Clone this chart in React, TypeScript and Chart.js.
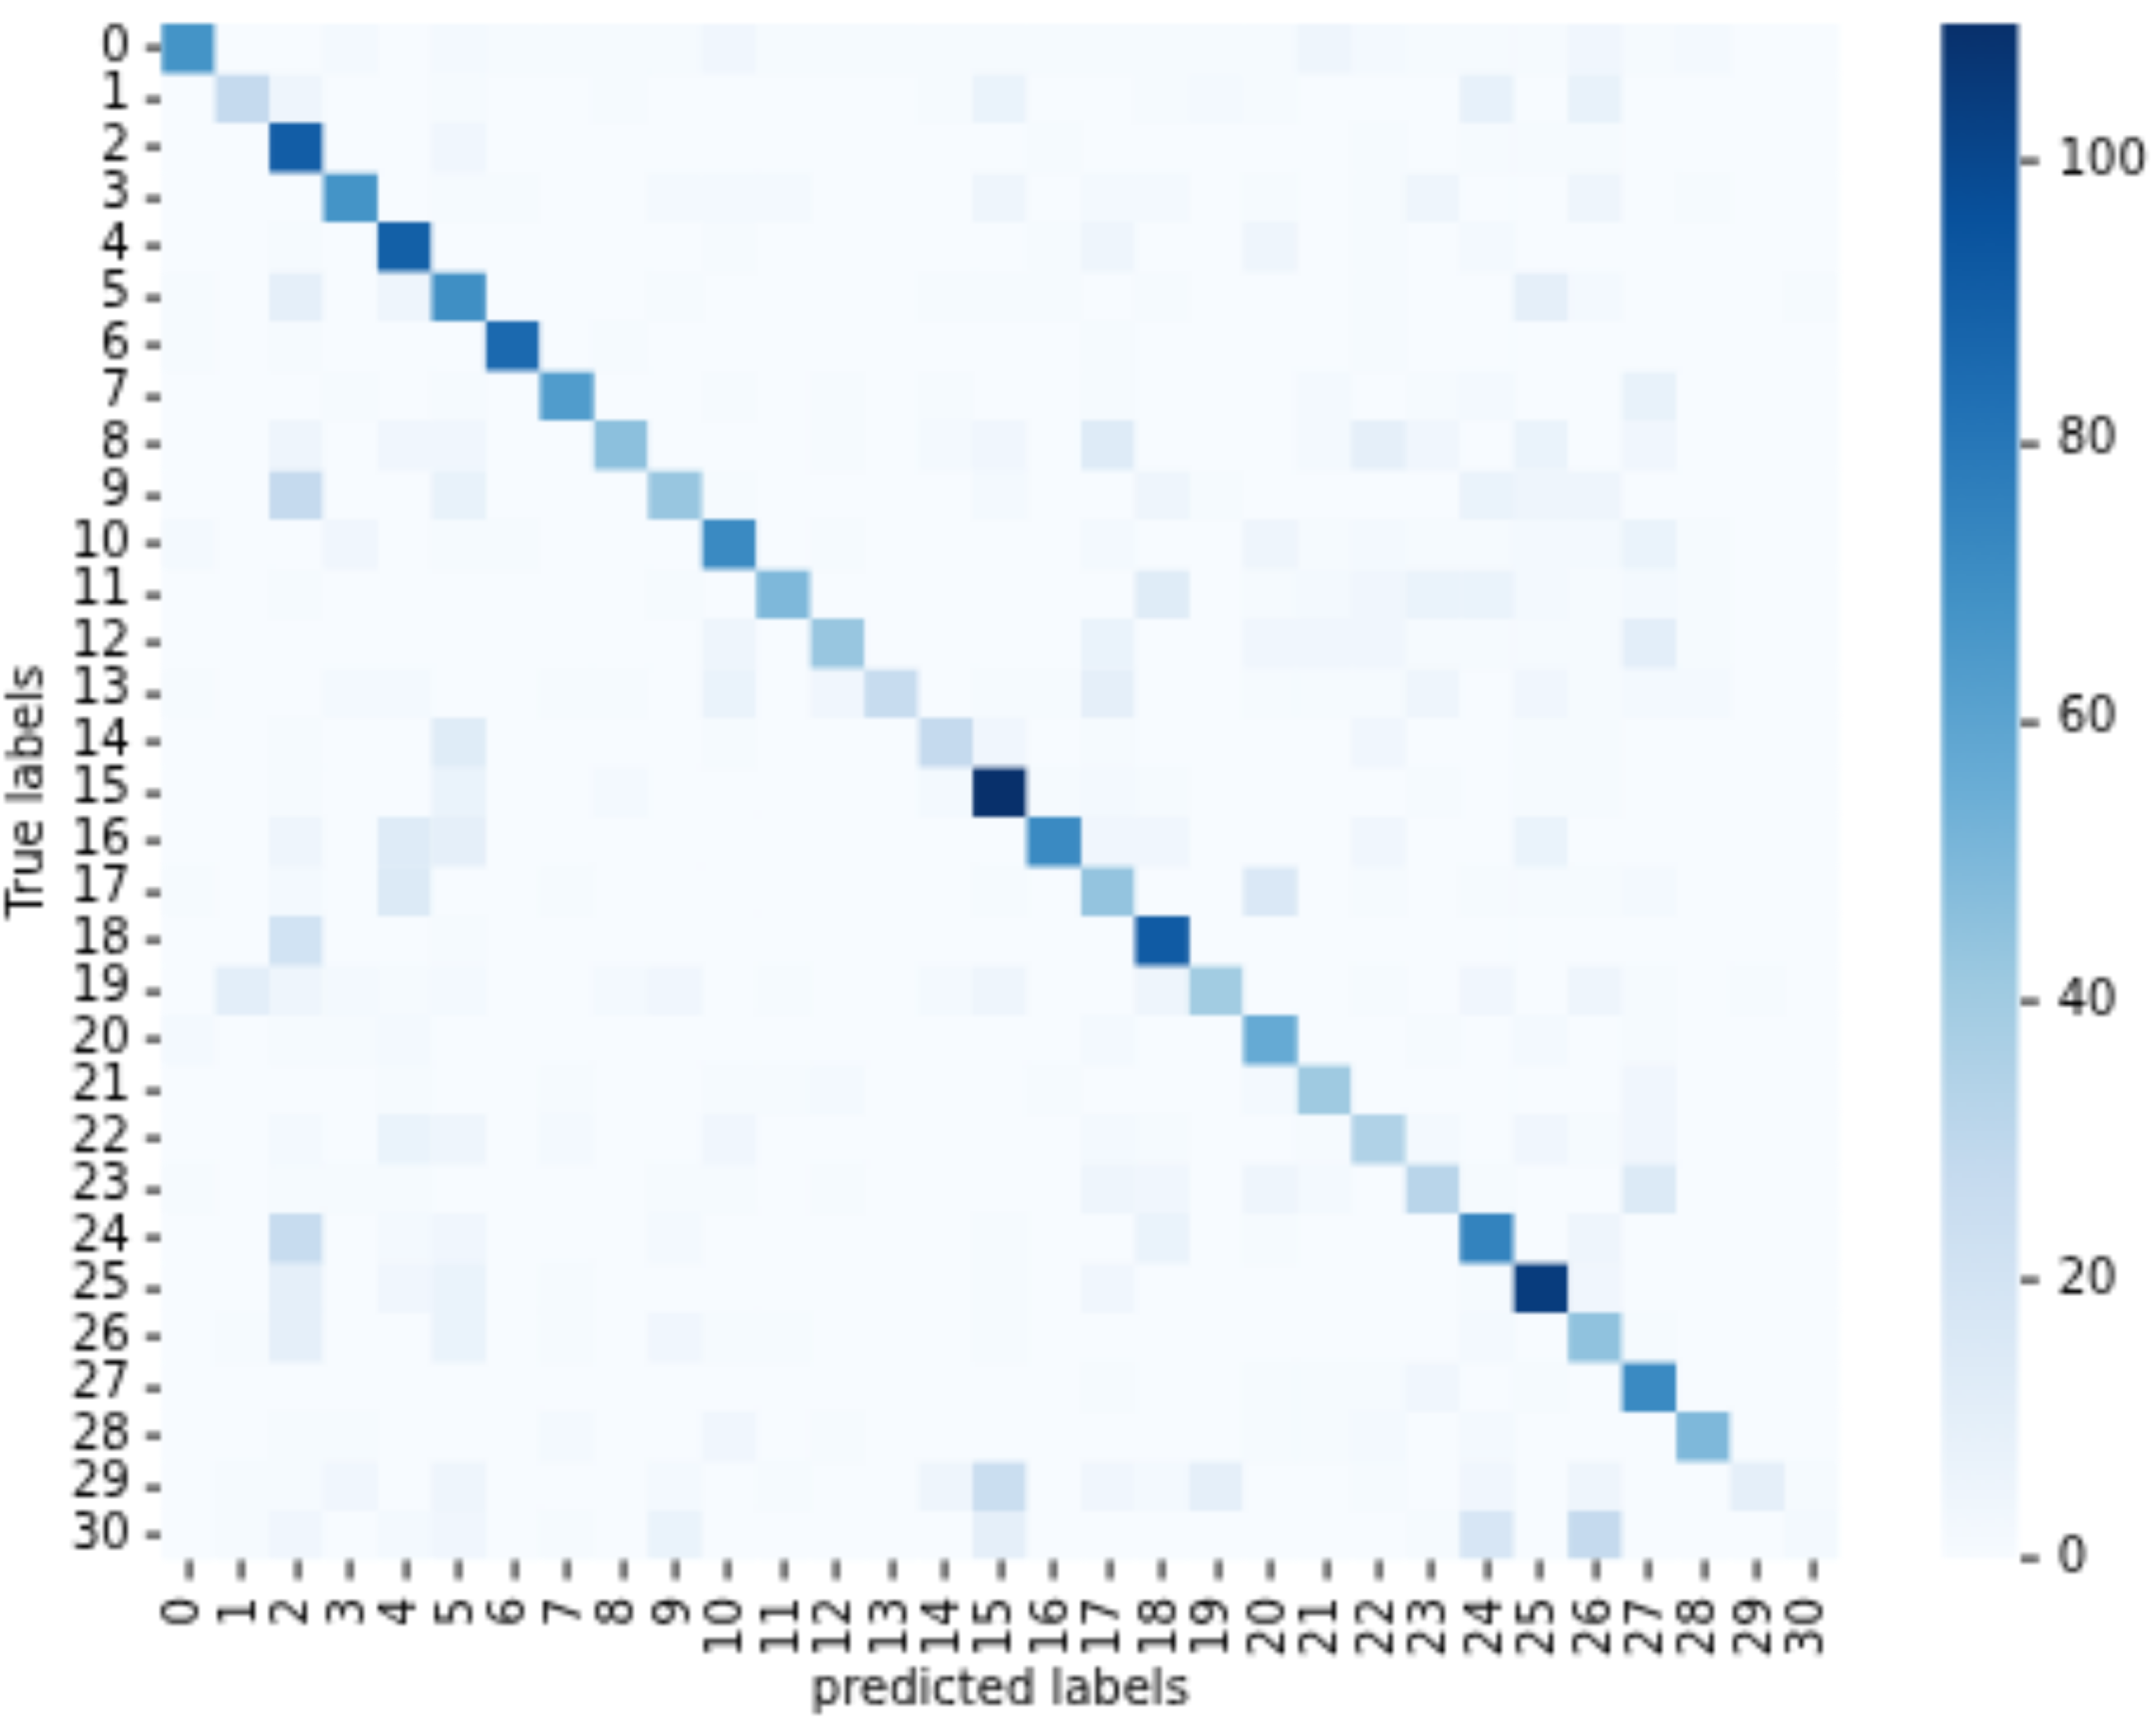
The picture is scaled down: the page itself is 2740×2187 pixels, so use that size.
import React, { useEffect, useRef } from "react";
import { Chart, registerables } from "chart.js";

Chart.register(...registerables);

const FONT = "'DejaVu Sans'";
const axisLabels = Array.from({ length: 31 }, (_, i) => String(i));
const xTitle = "predicted labels";
const yTitle = "True labels";
const colorbarTicks = [0, 20, 40, 60, 80, 100];
const colorbarRange: [number, number] = [0, 110];
const bluesStops = ["#f7fbff", "#deebf7", "#c6dbef", "#9ecae1", "#6baed6", "#4292c6", "#2171b5", "#08519c", "#08306b"];

const r0 = [68,0,0,2,0, 2,1,1,1,1, 4,1,1,1,1, 1,1,1,1,1, 1,5,2,1,1, 1,4,1,2,0, 0];
const r1 = [0,28,5,0,0, 1,0,0,1,0, 0,0,0,0,1, 7,0,0,1,2, 1,0,0,0,9, 0,8,0,0,0, 0];
const r2 = [0,0,91,0,0, 4,0,0,0,0, 0,0,0,0,0, 0,1,0,0,0, 0,0,1,0,1, 1,1,0,0,0, 0];
const r3 = [0,0,0,68,0, 1,1,0,0,2, 2,2,0,0,0, 5,0,2,2,0, 1,0,1,5,0, 0,5,0,1,0, 0];
const r4 = [0,0,1,0,90, 0,0,0,0,0, 1,0,0,0,0, 0,1,5,0,0, 5,0,1,0,2, 0,0,0,0,0, 0];
const r5 = [1,0,10,0,5, 70,0,0,0,1, 0,0,0,0,1, 1,1,0,1,0, 0,0,1,0,0, 10,2,0,0,0, 1];
const r6 = [1,0,1,0,0, 0,86,0,1,0, 0,0,0,0,0, 0,0,1,0,0, 0,0,1,0,0, 0,0,0,0,0, 0];
const r7 = [0,0,0,1,0, 1,0,64,0,0, 1,0,1,0,1, 0,0,1,0,0, 0,2,0,1,2, 0,0,8,0,0, 0];
const r8 = [0,0,5,0,4, 4,0,0,46,0, 0,0,1,0,2, 4,0,14,0,0, 0,2,10,4,0, 7,0,4,0,0, 0];
const r9 = [0,0,28,0,0, 8,0,0,0,43, 1,0,0,0,0, 2,0,0,5,1, 0,0,0,0,7, 5,5,0,0,0, 0];
const r10 = [2,0,0,4,0, 1,1,0,0,0, 72,0,1,0,0, 0,0,2,0,0, 5,1,2,1,1, 2,2,7,1,0, 0];
const r11 = [0,0,1,0,0, 0,0,0,0,1, 0,50,0,0,0, 0,0,0,13,0, 1,2,4,7,7, 2,1,2,1,0, 0];
const r12 = [0,0,0,0,0, 0,0,0,0,0, 5,0,43,0,0, 0,0,7,0,0, 4,4,4,1,1, 1,1,11,1,0, 0];
const r13 = [1,0,0,2,2, 0,0,1,1,0, 7,0,4,27,0, 1,1,10,0,0, 1,1,1,5,0, 4,1,2,2,0, 0];
const r14 = [0,0,1,0,0, 13,0,0,0,0, 1,0,0,0,28, 4,0,1,0,0, 0,0,4,0,0, 1,1,0,0,0, 0];
const r15 = [0,0,1,0,0, 7,0,0,2,0, 0,0,0,0,2, 110,1,2,1,0, 0,0,0,1,0, 1,1,0,0,0, 0];
const r16 = [0,0,5,0,14, 10,0,0,0,0, 0,0,0,0,0, 0,72,4,4,0, 0,0,4,0,0, 7,0,0,0,0, 0];
const r17 = [1,0,2,0,15, 0,0,1,0,0, 0,0,0,0,0, 1,0,44,0,0, 16,0,1,0,1, 1,1,2,0,0, 0];
const r18 = [0,0,21,0,0, 1,0,0,0,0, 0,0,0,0,0, 0,0,0,92,0, 0,0,0,0,0, 0,0,0,0,0, 0];
const r19 = [0,11,5,2,1, 2,0,0,2,4, 0,1,0,0,2, 5,0,0,5,40, 0,0,1,0,4, 0,5,1,0,1, 0];
const r20 = [2,0,1,1,2, 0,0,0,0,0, 0,0,0,0,0, 0,0,2,0,0, 57,0,0,1,0, 2,0,1,0,0, 0];
const r21 = [0,0,0,0,1, 0,0,1,0,0, 1,1,2,0,0, 0,1,0,0,0, 2,41,0,0,0, 0,0,4,0,0, 0];
const r22 = [0,0,2,0,7, 5,0,2,0,0, 4,0,0,0,0, 0,0,2,1,0, 0,1,35,2,0, 4,1,4,0,0, 0];
const r23 = [1,0,1,1,1, 0,0,0,0,1, 1,0,1,0,0, 0,0,5,4,0, 5,2,0,32,1, 0,0,15,0,0, 0];
const r24 = [0,0,27,0,2, 4,0,0,0,2, 0,0,0,0,0, 1,0,0,7,0, 1,0,0,0,75, 0,5,0,0,0, 0];
const r25 = [0,0,10,0,4, 7,0,1,0,0, 0,0,0,0,0, 1,0,4,0,0, 0,0,0,0,1, 105,4,0,0,0, 0];
const r26 = [0,1,10,0,0, 7,0,1,0,4, 1,1,0,0,0, 1,0,0,0,0, 0,0,0,0,2, 0,45,1,0,0, 0];
const r27 = [0,0,0,0,0, 0,0,0,0,0, 0,0,0,0,0, 0,0,1,0,0, 1,1,1,4,0, 1,0,72,0,0, 0];
const r28 = [0,0,1,1,0, 0,0,2,0,0, 4,0,1,0,0, 0,0,0,0,0, 1,1,2,0,2, 0,0,0,50,0, 0];
const r29 = [0,1,1,4,0, 5,0,0,0,2, 0,1,0,0,5, 25,0,4,2,10, 0,0,1,0,4, 0,5,0,0,10, 1];
const r30 = [0,1,4,0,2, 4,0,1,0,7, 0,0,0,0,0, 10,0,0,0,0, 0,0,0,1,18, 0,28,0,0,0, 2];
const confusion = [r0,r1,r2,r3,r4,r5,r6,r7,r8,r9,r10,r11,r12,r13,r14,r15,r16,r17,r18,r19,r20,r21,r22,r23,r24,r25,r26,r27,r28,r29,r30];

const hexRgb = (h: string) => [1, 3, 5].map((i) => parseInt(h.slice(i, i + 2), 16));
function blues(v: number) {
  const t = Math.min(1, Math.max(0, v / colorbarRange[1])) * (bluesStops.length - 1);
  const i = Math.min(bluesStops.length - 2, Math.floor(t));
  const a = hexRgb(bluesStops[i]);
  const b = hexRgb(bluesStops[i + 1]);
  const c = a.map((x, k) => Math.round(x + (b[k] - x) * (t - i)));
  return `rgb(${c[0]},${c[1]},${c[2]})`;
}

const RATIO = 1 / 6;
const tickFont = { family: FONT, size: 60 };

const plotBackground = {
  id: "plotBackground",
  beforeDatasetsDraw(chart: any) {
    const { ctx, chartArea: a } = chart;
    ctx.save();
    ctx.fillStyle = bluesStops[0];
    ctx.fillRect(a.left, a.top, a.right - a.left, a.bottom - a.top);
    ctx.restore();
  },
};

const noPadding = (s: any) => {
  s.paddingTop = 0;
  s.paddingBottom = 0;
  s.paddingLeft = 0;
  s.paddingRight = 0;
};

export default function App() {
  const mainRef = useRef<HTMLCanvasElement>(null);
  const barRef = useRef<HTMLCanvasElement>(null);

  useEffect(() => {
    const main = new Chart(mainRef.current!, {
      type: "bar",
      data: {
        labels: axisLabels,
        datasets: confusion.map((row, r) => ({
          data: row.map(() => [r - 0.5, r + 0.5]),
          backgroundColor: row.map(blues),
          borderWidth: 0,
          grouped: false,
          barPercentage: 1,
          categoryPercentage: 1,
        })),
      } as any,
      plugins: [plotBackground],
      options: {
        animation: false,
        responsive: false,
        devicePixelRatio: RATIO,
        events: [],
        layout: { padding: { top: 30, right: 63, left: 0, bottom: 0 } },
        plugins: { legend: { display: false }, tooltip: { enabled: false }, title: { display: false } },
        scales: {
          x: {
            type: "category",
            offset: true,
            border: { display: false },
            grid: { offset: false, drawOnChartArea: false, tickColor: "#000", tickWidth: 6, tickLength: 25 },
            ticks: { color: "#000", font: tickFont, minRotation: 90, maxRotation: 90, autoSkip: false, padding: 22 },
            title: { display: true, text: xTitle, color: "#000", font: { family: FONT, size: 60, lineHeight: 1 }, padding: { top: 0, bottom: 6 } },
            afterFit: (s: any) => { s.height = 202; noPadding(s); },
          },
          y: {
            type: "linear",
            reverse: true,
            min: -0.5,
            max: 30.5,
            border: { display: false },
            grid: { drawOnChartArea: false, tickColor: "#000", tickWidth: 6, tickLength: 20 },
            ticks: { color: "#000", font: tickFont, autoSkip: false, padding: 19, callback: (v: any) => String(v) },
            afterBuildTicks: (s: any) => { s.ticks = axisLabels.map((l) => ({ value: Number(l) })); },
            title: { display: true, text: yTitle, color: "#000", font: { family: FONT, size: 60, lineHeight: 1 }, padding: { top: 8, bottom: 0 } },
            afterFit: (s: any) => { s.width = 205; noPadding(s); },
          },
        },
      } as any,
    });

    const bar = new Chart(barRef.current!, {
      type: "bar",
      data: {
        labels: [""],
        datasets: [{
          data: [colorbarRange],
          borderWidth: 0,
          barPercentage: 1,
          categoryPercentage: 1,
          backgroundColor: (ctx: any) => {
            const { chart } = ctx;
            const y = chart.scales.y;
            if (!y || !chart.chartArea) return bluesStops[4];
            const g = chart.ctx.createLinearGradient(0, y.getPixelForValue(colorbarRange[0]), 0, y.getPixelForValue(colorbarRange[1]));
            bluesStops.forEach((c, i) => g.addColorStop(i / (bluesStops.length - 1), c));
            return g;
          },
        }],
      } as any,
      options: {
        animation: false,
        responsive: false,
        devicePixelRatio: RATIO,
        events: [],
        layout: { padding: { top: 30, left: 67, right: 0, bottom: 202 } },
        plugins: { legend: { display: false }, tooltip: { enabled: false } },
        scales: {
          x: { display: false, offset: true },
          y: {
            type: "linear",
            position: "right",
            min: colorbarRange[0],
            max: colorbarRange[1],
            border: { display: false },
            grid: { drawOnChartArea: false, tickColor: "#000", tickWidth: 6, tickLength: 25 },
            ticks: { color: "#000", font: tickFont, padding: 23 },
            afterBuildTicks: (s: any) => { s.ticks = colorbarTicks.map((value) => ({ value })); },
            afterFit: (s: any) => { s.width = 170; noPadding(s); },
          },
        },
      } as any,
    });

    return () => { main.destroy(); bar.destroy(); };
  }, []);

  return (
    <div style={{ position: "absolute", left: 0, top: 0, width: 2740, height: 2187, background: "#fff", overflow: "hidden" }}>
      <canvas ref={mainRef} width={2400} height={2184} style={{ position: "absolute", left: 0, top: 0, display: "block" }} />
      <canvas ref={barRef} width={336} height={2184} style={{ position: "absolute", left: 2400, top: 0, display: "block" }} />
    </div>
  );
}
